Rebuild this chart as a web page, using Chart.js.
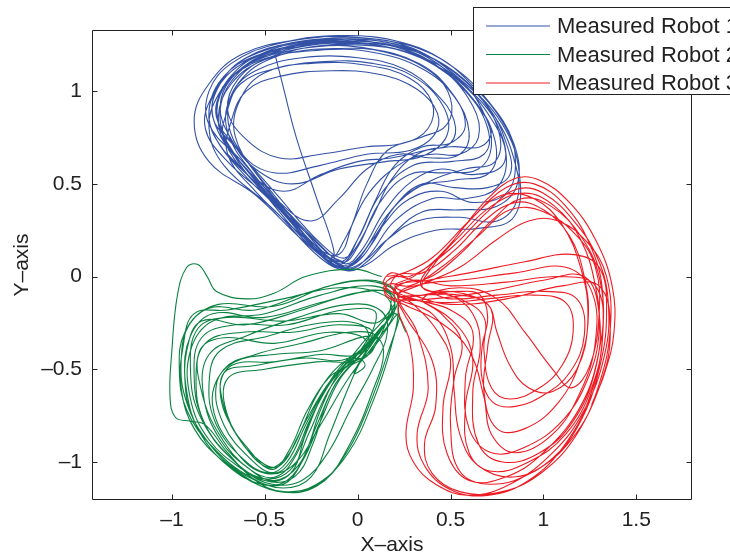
<!DOCTYPE html>
<html>
<head>
<meta charset="utf-8">
<script src="https://cdn.jsdelivr.net/npm/chart.js@4/dist/chart.umd.min.js"></script>
<style>
  html, body { margin: 0; padding: 0; background: #fff; }
  canvas { display: block; }
</style>
</head>
<body>
<canvas id="trackChart" width="730" height="558"></canvas>
<script>
// In axis units
const robotLabels = ['Measured Robot 1', 'Measured Robot 2', 'Measured Robot 3'];
const robotColors = ['#3352a6', '#0b8241', '#ed1c24'];
const xTicks = [-1, -0.5, 0, 0.5, 1, 1.5];
const yTicks = [-1, -0.5, 0, 0.5, 1];

const robot1Path = [
    [-0.45,1.22],[-0.40,1.02],[-0.33,0.75],[-0.22,0.42],[-0.13,0.15],[-0.14,0.08],
    [-0.3,0.2],[-0.55,0.44],[-0.8,0.62],[-0.88,0.84],[-0.8,1.04],[-0.62,1.2],[-0.3,1.28],[0.0,1.29],[0.3,1.23],[0.58,1.04],[0.78,0.82],[0.87,0.56],[0.84,0.32],[0.65,0.26],[0.42,0.25],[0.2,0.17],[0.04,0.06],[-0.08,0.04],
    [-0.25,0.16],[-0.48,0.42],[-0.68,0.68],[-0.74,0.9],[-0.64,1.1],[-0.45,1.21],[-0.2,1.26],[0.1,1.25],[0.4,1.15],[0.62,0.96],[0.74,0.73],[0.71,0.56],[0.52,0.52],[0.32,0.48],[0.15,0.32],[0.02,0.12],[-0.08,0.06],
    [-0.24,0.18],[-0.5,0.46],[-0.7,0.72],[-0.76,0.9],[-0.7,1.06],[-0.52,1.2],[-0.25,1.27],[0.05,1.27],[0.35,1.18],[0.58,1.0],[0.7,0.8],[0.68,0.66],[0.5,0.62],[0.3,0.6],[0.12,0.44],[0.0,0.2],[-0.1,0.08],
    [-0.3,0.26],[-0.52,0.52],[-0.66,0.76],[-0.63,0.96],[-0.5,1.1],[-0.25,1.15],[0.05,1.14],[0.28,1.07],[0.4,0.94],[0.38,0.8],[0.25,0.72],[0.05,0.7],[-0.2,0.66],[-0.42,0.64],[-0.6,0.74],
    [-0.7,0.9],[-0.64,1.07],[-0.48,1.18],[-0.22,1.24],[0.06,1.23],[0.33,1.15],[0.5,1.0],[0.58,0.82],[0.5,0.72],[0.35,0.7],[0.2,0.6],[0.1,0.42],[0.0,0.2],[-0.07,0.1],[-0.2,0.18],[-0.45,0.46],[-0.66,0.7],
    [-0.78,0.86],[-0.74,1.04],[-0.6,1.18],[-0.35,1.26],[0.0,1.28],[0.3,1.22],[0.55,1.05],[0.72,0.85],[0.8,0.65],[0.75,0.48],[0.58,0.42],[0.4,0.42],[0.2,0.3],[0.05,0.1],[-0.05,0.04],[-0.2,0.12],[-0.45,0.4],[-0.7,0.62],
    [-0.82,0.8],[-0.78,0.98],[-0.65,1.13],[-0.45,1.22],[-0.15,1.27],[0.2,1.24],[0.45,1.12],[0.62,0.92],[0.65,0.75],[0.55,0.66],[0.4,0.66],[0.25,0.62],[0.06,0.45],[-0.07,0.2],[-0.15,0.1],[-0.3,0.22],[-0.55,0.46],[-0.7,0.66],
    [-0.68,0.84],[-0.6,1.0],[-0.42,1.08],[-0.14,1.11],[0.12,1.09],[0.32,1.01],[0.43,0.88],[0.41,0.76],[0.28,0.68],[0.05,0.66],[-0.2,0.6],[-0.45,0.56],[-0.62,0.66],
    [-0.7,0.88],[-0.62,1.07],[-0.43,1.19],[-0.15,1.25],[0.15,1.24],[0.42,1.14],[0.66,0.95],[0.78,0.75],[0.78,0.6],[0.62,0.55],[0.45,0.58],[0.3,0.52],[0.15,0.36],[0.02,0.14],[-0.07,0.07],[-0.25,0.22],[-0.5,0.48],[-0.7,0.7],
    [-0.75,0.86],[-0.68,1.04],[-0.5,1.17],[-0.22,1.22],[0.08,1.21],[0.35,1.12],[0.52,0.97],[0.6,0.78],[0.55,0.66],[0.4,0.64],[0.22,0.66],[0.05,0.58],[-0.1,0.42],[-0.25,0.3],[-0.42,0.4],[-0.62,0.62],
    [-0.8,0.82],[-0.8,1.0],[-0.68,1.15],[-0.45,1.25],[-0.1,1.3],[0.25,1.26],[0.5,1.14],[0.7,0.95],[0.84,0.72],[0.86,0.5],[0.75,0.38],[0.55,0.36],[0.35,0.35],[0.18,0.22],[0.05,0.08],[-0.05,0.03],[-0.2,0.1],[-0.45,0.36],[-0.72,0.6],
    [-0.8,0.8],[-0.75,0.98],[-0.62,1.12],[-0.4,1.2],[-0.12,1.23],[0.15,1.21],[0.4,1.1],[0.5,0.96],[0.48,0.82],[0.34,0.75],[0.16,0.68],[0.05,0.5],[-0.03,0.28],[-0.1,0.12],[-0.22,0.16],[-0.45,0.44],[-0.64,0.68],
    [-0.76,0.86],[-0.72,1.02],[-0.58,1.15],[-0.3,1.23],[0.0,1.25],[0.3,1.2],[0.55,1.06],[0.68,0.88],[0.72,0.7],[0.65,0.58],[0.48,0.56],[0.28,0.55],[0.12,0.4],[0.0,0.16],[-0.08,0.08],[-0.28,0.24],[-0.55,0.5],[-0.72,0.74],
    [-0.7,0.9],[-0.63,1.04],[-0.45,1.12],[-0.18,1.16],[0.08,1.15],[0.3,1.08],[0.46,0.92],[0.48,0.76],[0.35,0.65],[0.15,0.62],[-0.1,0.58],[-0.35,0.5],[-0.55,0.58],[-0.68,0.74],
    [-0.74,0.92],[-0.66,1.09],[-0.47,1.21],[-0.2,1.27],[0.12,1.27],[0.42,1.17],[0.64,0.99],[0.76,0.78],[0.74,0.62],[0.58,0.58],[0.4,0.52],[0.22,0.4],[0.08,0.2],[-0.04,0.06],[-0.15,0.07],[-0.35,0.3],
    [-0.58,0.56],[-0.74,0.76],[-0.78,0.95],[-0.68,1.12],[-0.5,1.22],[-0.22,1.28],[0.1,1.28],[0.4,1.2],[0.62,1.03],[0.8,0.8],[0.85,0.62],[0.8,0.45],[0.62,0.4],[0.45,0.46],[0.28,0.42],[0.14,0.28],[0.02,0.1],[-0.08,0.05],
    [-0.22,0.14],[-0.42,0.36],[-0.62,0.56],[-0.76,0.74],[-0.8,0.9],[-0.72,1.08],[-0.55,1.19],[-0.3,1.25],[-0.02,1.26],[0.26,1.21],[0.5,1.08],[0.66,0.9],[0.72,0.78],[0.66,0.7],[0.5,0.7],[0.32,0.66],[0.18,0.52],[0.08,0.32],[-0.02,0.14],[-0.1,0.07],
    [-0.3,0.26],[-0.55,0.54],[-0.7,0.78],[-0.68,0.98],[-0.55,1.11],[-0.3,1.18],[0.0,1.18],[0.25,1.12],[0.42,0.99],[0.52,0.84],[0.5,0.72],[0.36,0.68],[0.18,0.64],[0.0,0.62],[-0.2,0.55],[-0.4,0.46],[-0.58,0.56],
    [-0.74,0.8],[-0.74,0.98],[-0.6,1.14],[-0.35,1.23],[-0.05,1.26],[0.25,1.23],[0.5,1.12],[0.7,0.92],[0.8,0.72],[0.82,0.55],[0.7,0.48],[0.52,0.48],[0.35,0.5],[0.2,0.38],[0.08,0.18],[-0.02,0.07],[-0.12,0.06],[-0.3,0.24],[-0.52,0.48],
    [-0.72,0.68],[-0.8,0.86],[-0.74,1.04],[-0.58,1.17],[-0.32,1.24],[0.0,1.27],[0.32,1.21],[0.56,1.07],[0.74,0.86],[0.84,0.64],[0.86,0.42],[0.75,0.3],[0.55,0.32],[0.32,0.3],[0.16,0.2],[0.03,0.08],[-0.07,0.05],[-0.24,0.17],[-0.5,0.45],[-0.7,0.66]
];

const robot2Path = [
    [0.13,0.0],[-0.02,0.04],[-0.28,0.0],[-0.45,-0.09],[-0.6,-0.12],[-0.76,-0.08],[-0.81,0.0],[-0.86,0.065],[-0.92,0.05],[-0.97,-0.1],[-1.0,-0.4],[-1.01,-0.65],[-0.98,-0.76],[-0.9,-0.78],[-0.82,-0.8],[-0.7,-0.95],[-0.55,-1.1],[-0.4,-1.16],[-0.22,-1.12],[-0.05,-0.95],[0.08,-0.68],[0.18,-0.38],[0.22,-0.15],
    [0.18,-0.05],[0.0,-0.02],[-0.25,-0.08],[-0.55,-0.18],[-0.8,-0.17],[-0.93,-0.3],[-0.96,-0.5],[-0.92,-0.72],[-0.78,-0.92],[-0.58,-1.08],[-0.4,-1.14],[-0.25,-1.08],[-0.15,-0.85],[-0.05,-0.6],[0.02,-0.45],[0.12,-0.3],[0.2,-0.15],
    [0.1,-0.25],[-0.1,-0.2],[-0.4,-0.24],[-0.7,-0.22],[-0.86,-0.28],[-0.9,-0.5],[-0.85,-0.75],[-0.68,-0.98],[-0.5,-1.1],[-0.36,-1.06],[-0.28,-0.85],[-0.18,-0.62],[-0.06,-0.45],[0.05,-0.38],[0.12,-0.3],
    [0.0,-0.42],[-0.2,-0.42],[-0.45,-0.46],[-0.68,-0.48],[-0.74,-0.62],[-0.66,-0.84],[-0.52,-1.0],[-0.42,-1.02],[-0.32,-0.86],[-0.22,-0.64],[-0.1,-0.48],[0.0,-0.44],[0.04,-0.48],[-0.02,-0.52],
    [0.05,-0.35],[-0.15,-0.3],[-0.45,-0.36],[-0.72,-0.33],[-0.85,-0.4],[-0.84,-0.62],[-0.74,-0.86],[-0.58,-1.04],[-0.44,-1.08],[-0.33,-0.96],[-0.24,-0.74],[-0.13,-0.55],[-0.02,-0.46],[0.08,-0.4],
    [0.18,-0.1],[0.05,-0.08],[-0.2,-0.14],[-0.5,-0.22],[-0.78,-0.2],[-0.9,-0.32],[-0.93,-0.55],[-0.88,-0.78],[-0.72,-0.98],[-0.55,-1.1],[-0.4,-1.12],[-0.3,-1.0],[-0.2,-0.78],[-0.1,-0.56],[0.02,-0.42],[0.14,-0.26],
    [-0.05,-0.44],[-0.3,-0.44],[-0.55,-0.48],[-0.72,-0.52],[-0.72,-0.7],[-0.62,-0.9],[-0.48,-1.03],[-0.38,-0.97],[-0.28,-0.78],[-0.16,-0.58],[-0.06,-0.47],
    [0.08,-0.3],[-0.1,-0.26],[-0.35,-0.3],[-0.62,-0.3],[-0.82,-0.36],[-0.87,-0.56],[-0.82,-0.8],[-0.66,-1.0],[-0.5,-1.09],[-0.36,-1.04],[-0.26,-0.84],[-0.16,-0.62],[-0.04,-0.46],[0.06,-0.36],
    [0.22,-0.12],[0.1,-0.03],[-0.15,-0.05],[-0.45,-0.16],[-0.75,-0.15],[-0.9,-0.25],[-0.95,-0.45],[-0.92,-0.68],[-0.8,-0.9],[-0.62,-1.07],[-0.42,-1.16],[-0.22,-1.13],[-0.06,-0.95],[0.06,-0.7],[0.16,-0.42],[0.22,-0.2],
    [0.02,-0.44],[-0.22,-0.46],[-0.5,-0.5],[-0.7,-0.55],[-0.7,-0.75],[-0.58,-0.94],[-0.46,-1.04],[-0.37,-0.94],[-0.27,-0.72],[-0.15,-0.54],[-0.03,-0.46],
    [0.1,-0.2],[-0.08,-0.18],[-0.38,-0.26],[-0.66,-0.26],[-0.84,-0.33],[-0.88,-0.54],[-0.83,-0.78],[-0.67,-0.99],[-0.5,-1.1],[-0.34,-1.08],[-0.24,-0.9],[-0.16,-0.66],[-0.06,-0.5],[0.06,-0.42],[0.1,-0.32],
    [-0.05,-0.3],[-0.3,-0.36],[-0.55,-0.42],[-0.72,-0.5],[-0.78,-0.7],[-0.65,-0.95],[-0.5,-1.06],[-0.35,-1.02],[-0.2,-0.8],[-0.05,-0.55],[0.1,-0.35],[0.2,-0.18],
    [0.15,-0.08],[-0.05,-0.1],[-0.3,-0.18],[-0.6,-0.26],[-0.84,-0.24],[-0.92,-0.4],[-0.92,-0.62],[-0.85,-0.84],[-0.7,-1.02],[-0.52,-1.12],[-0.38,-1.1],[-0.28,-0.95],[-0.2,-0.72],[-0.1,-0.52],[0.0,-0.44],
    [0.12,-0.3],[0.2,-0.12],[0.08,-0.05],[-0.2,-0.1],[-0.5,-0.2],[-0.78,-0.24],[-0.9,-0.4],[-0.9,-0.66],[-0.8,-0.88],[-0.62,-1.04],[-0.46,-1.12],[-0.3,-1.1],[-0.16,-0.95],[-0.04,-0.72],[0.08,-0.5],[0.16,-0.3],
    [0.12,-0.18],[-0.05,-0.15],[-0.32,-0.22],[-0.6,-0.32],[-0.8,-0.42],[-0.83,-0.64],[-0.74,-0.88],[-0.58,-1.04],[-0.45,-1.1],[-0.32,-1.02],[-0.22,-0.8],[-0.12,-0.58],[-0.02,-0.46],[0.06,-0.35],
    [0.02,-0.26],[-0.2,-0.25],[-0.48,-0.32],[-0.74,-0.4],[-0.8,-0.58],[-0.76,-0.8],[-0.62,-0.98],[-0.48,-1.06],[-0.38,-1.0],[-0.28,-0.8],[-0.17,-0.6],[-0.07,-0.48],[0.02,-0.4],
    [0.18,-0.2],[0.14,-0.1],[-0.1,-0.06],[-0.4,-0.12],[-0.7,-0.18],[-0.88,-0.2],[-0.94,-0.38],[-0.95,-0.6],[-0.88,-0.82],[-0.72,-1.0],[-0.52,-1.13],[-0.35,-1.16],[-0.18,-1.1],[-0.04,-0.9],[0.08,-0.62],[0.14,-0.4],[0.08,-0.32],
    [-0.2,-0.4],[-0.45,-0.42],[-0.66,-0.46],[-0.76,-0.58],[-0.72,-0.8],[-0.58,-0.98],[-0.45,-1.06],[-0.35,-0.98],[-0.26,-0.78],[-0.14,-0.56],[-0.04,-0.44],[0.08,-0.3],[0.2,-0.2],[0.26,-0.3]
];

const robot3Path = [
    [0.16,0.0],[0.25,0.02],[0.4,0.1],[0.6,0.3],[0.8,0.48],[0.95,0.5],[1.12,0.38],[1.26,0.15],[1.32,-0.1],[1.3,-0.4],[1.2,-0.7],[1.0,-0.95],[0.8,-1.08],[0.6,-1.1],[0.48,-0.95],[0.46,-0.7],[0.5,-0.45],[0.42,-0.28],[0.3,-0.15],[0.2,-0.08],
    [0.3,-0.02],[0.5,-0.05],[0.8,-0.03],[1.1,0.0],[1.28,-0.05],[1.32,-0.3],[1.26,-0.6],[1.12,-0.85],[0.92,-1.0],[0.72,-1.05],[0.6,-0.95],[0.58,-0.7],[0.62,-0.45],[0.55,-0.28],[0.38,-0.15],[0.22,-0.1],
    [0.14,-0.04],[0.18,0.02],[0.28,0.0],[0.45,0.12],[0.62,0.32],[0.78,0.44],[0.95,0.42],[1.1,0.28],[1.2,0.05],[1.24,-0.2],[1.2,-0.45],[1.08,-0.68],[0.9,-0.82],[0.75,-0.82],[0.68,-0.62],[0.7,-0.38],[0.72,-0.18],[0.6,-0.1],[0.4,-0.08],
    [0.5,-0.12],[0.75,-0.1],[1.0,-0.08],[1.18,-0.12],[1.22,-0.32],[1.14,-0.52],[1.0,-0.64],[0.85,-0.7],[0.73,-0.68],[0.67,-0.55],[0.67,-0.38],[0.7,-0.22],[0.66,-0.1],
    [0.55,-0.08],[0.35,-0.1],[0.22,-0.15],[0.28,-0.35],[0.3,-0.6],[0.26,-0.85],[0.3,-1.0],[0.42,-1.12],[0.6,-1.18],[0.82,-1.12],[1.05,-0.95],[1.22,-0.72],[1.33,-0.42],[1.35,-0.15],[1.3,0.08],[1.18,0.28],[1.0,0.45],[0.85,0.47],[0.7,0.35],[0.5,0.15],[0.3,0.0],
    [0.2,-0.05],[0.3,-0.1],[0.5,-0.15],[0.8,-0.12],[1.1,-0.05],[1.3,-0.05],[1.36,-0.3],[1.3,-0.6],[1.15,-0.88],[0.95,-1.05],[0.72,-1.12],[0.55,-1.05],[0.5,-0.8],[0.52,-0.55],[0.56,-0.35],[0.45,-0.2],
    [0.35,-0.12],[0.55,-0.06],[0.75,-0.12],[0.9,-0.3],[1.05,-0.5],[1.15,-0.6],[1.25,-0.48],[1.3,-0.2],[1.28,0.05],[1.18,0.22],[1.0,0.35],[0.82,0.36],[0.65,0.22],[0.45,0.05],[0.28,-0.05],[0.17,-0.04],[0.15,-0.1],[0.25,-0.15],[0.45,-0.25],
    [0.6,-0.4],[0.68,-0.65],[0.72,-0.85],[0.85,-0.95],[1.05,-0.85],[1.2,-0.62],[1.28,-0.35],[1.26,-0.08],[1.12,0.05],[0.85,0.02],[0.55,-0.02],[0.35,-0.04],
    [0.22,-0.1],[0.32,-0.3],[0.38,-0.6],[0.32,-0.85],[0.36,-1.02],[0.5,-1.15],[0.7,-1.18],[0.92,-1.1],[1.12,-0.9],[1.26,-0.62],[1.32,-0.3],[1.3,0.0],[1.2,0.22],[1.04,0.38],[0.88,0.42],[0.72,0.3],[0.55,0.12],[0.35,-0.02],
    [0.2,0.0],[0.14,-0.06],[0.2,-0.12],[0.4,-0.12],[0.7,-0.08],[1.0,-0.02],[1.22,0.0],[1.3,-0.2],[1.28,-0.5],[1.16,-0.78],[0.98,-0.95],[0.78,-1.0],[0.65,-0.9],[0.62,-0.62],[0.66,-0.38],[0.62,-0.2],[0.5,-0.1],
    [0.35,-0.06],[0.4,0.05],[0.55,0.22],[0.72,0.38],[0.9,0.45],[1.06,0.38],[1.2,0.2],[1.28,-0.05],[1.3,-0.3],[1.24,-0.55],[1.1,-0.78],[0.9,-0.92],[0.72,-0.95],[0.6,-0.82],[0.58,-0.55],[0.62,-0.3],[0.5,-0.18],[0.3,-0.12],
    [0.18,-0.06],[0.22,0.01],[0.35,0.02],[0.52,0.14],[0.68,0.3],[0.85,0.4],[1.0,0.36],[1.14,0.22],[1.22,0.0],[1.24,-0.25],[1.18,-0.5],[1.05,-0.62],[0.92,-0.6],[0.82,-0.48],[0.75,-0.3],[0.7,-0.15],[0.55,-0.1],[0.35,-0.1],
    [0.22,-0.12],[0.4,-0.2],[0.5,-0.38],[0.52,-0.62],[0.55,-0.85],[0.65,-1.02],[0.85,-1.08],[1.05,-0.98],[1.2,-0.78],[1.3,-0.5],[1.34,-0.2],[1.3,0.05],[1.15,0.12],[0.9,0.08],[0.6,0.02],[0.38,-0.02],
    [0.2,-0.06],[0.25,-0.2],[0.4,-0.45],[0.42,-0.7],[0.36,-0.9],[0.4,-1.06],[0.55,-1.16],[0.78,-1.16],[1.0,-1.05],[1.18,-0.85],[1.3,-0.58],[1.36,-0.28],[1.34,0.0],[1.24,0.18],[1.08,0.3],[0.92,0.3],[0.75,0.2],[0.55,0.05],[0.35,-0.04],
    [0.22,-0.1],[0.45,-0.14],[0.7,-0.12],[0.95,-0.1],[1.12,-0.14],[1.16,-0.3],[1.1,-0.48],[0.98,-0.6],[0.82,-0.66],[0.72,-0.6],[0.68,-0.4],[0.68,-0.22],[0.55,-0.12],[0.35,-0.06],
    [0.35,0.0],[0.52,0.2],[0.7,0.42],[0.85,0.53],[0.98,0.52],[1.14,0.4],[1.28,0.2],[1.37,-0.05],[1.38,-0.3],[1.33,-0.52],[1.26,-0.69]
];

const FONT = '"Liberation Sans", Arial, Helvetica, sans-serif';
const AXIS_COLOR = '#222';

function toPoints(path) {
    return path.map(p => ({ x: p[0], y: p[1] }));
}

function minusLabel(v) {
    return v < 0 ? '\u2013' + Math.abs(v) : String(v);
}

// inward ticks on all four sides, the box, the axis titles and the legend
const framePlugin = {
    id: 'frame',
    afterDraw(chart) {
        const ctx = chart.ctx;
        const a = chart.chartArea;
        const xs = chart.scales.x;
        const ys = chart.scales.y;
        const L = Math.round(a.left) + 0.5, R = Math.round(a.right) - 0.5;
        const T = Math.round(a.top) + 0.5, B = Math.round(a.bottom) - 0.5;
        const tick = 5;

        ctx.save();
        ctx.strokeStyle = AXIS_COLOR;
        ctx.lineWidth = 1;
        ctx.beginPath();
        ctx.rect(L, T, R - L, B - T);
        xTicks.forEach(v => {
            const px = Math.round(xs.getPixelForValue(v)) + 0.5;
            ctx.moveTo(px, B); ctx.lineTo(px, B - tick);
            ctx.moveTo(px, T); ctx.lineTo(px, T + tick);
        });
        yTicks.forEach(v => {
            const py = Math.round(ys.getPixelForValue(v)) + 0.5;
            ctx.moveTo(L, py); ctx.lineTo(L + tick, py);
            ctx.moveTo(R, py); ctx.lineTo(R - tick, py);
        });
        ctx.stroke();

        // axis titles
        ctx.fillStyle = AXIS_COLOR;
        ctx.font = '21px ' + FONT;
        ctx.textAlign = 'center';
        ctx.textBaseline = 'middle';
        ctx.fillText('X\u2013axis', (a.left + a.right) / 2, 545);
        ctx.save();
        ctx.translate(22, (a.top + a.bottom) / 2);
        ctx.rotate(-Math.PI / 2);
        ctx.fillText('Y\u2013axis', 0, 0);
        ctx.restore();

        // legend box, clipped by the canvas edge like the original
        const bx = 473.5, by = 7.5, bw = 300, bh = 87;
        ctx.fillStyle = '#fff';
        ctx.fillRect(bx, by, bw, bh);
        ctx.strokeRect(bx, by, bw, bh);
        ctx.textAlign = 'left';
        ctx.font = '22px ' + FONT;
        robotLabels.forEach((label, i) => {
            const ry = 26 + i * 28.5;
            ctx.strokeStyle = robotColors[i];
            ctx.lineWidth = 1.2;
            ctx.beginPath();
            ctx.moveTo(486, ry);
            ctx.lineTo(550, ry);
            ctx.stroke();
            ctx.fillStyle = AXIS_COLOR;
            ctx.fillText(label, 557, ry + 1);
        });
        ctx.restore();
    }
};

const paths = [robot1Path, robot2Path, robot3Path];

new Chart(document.getElementById('trackChart'), {
    type: 'scatter',
    data: {
        datasets: paths.map((path, i) => ({
            label: robotLabels[i],
            data: toPoints(path),
            showLine: true,
            borderColor: robotColors[i],
            backgroundColor: robotColors[i],
            borderWidth: 1.1,
            pointRadius: 0,
            tension: 0.4,
            order: 3 - i
        }))
    },
    options: {
        responsive: false,
        animation: false,
        events: [],
        layout: { padding: { left: 0, right: 38, top: 30, bottom: 0 } },
        plugins: {
            legend: { display: false },
            tooltip: { enabled: false }
        },
        scales: {
            x: {
                type: 'linear',
                min: -1.43,
                max: 1.8,
                grid: { display: false, drawTicks: false },
                border: { display: false },
                afterFit: s => { s.height = 58; },
                ticks: {
                    includeBounds: false,
                    stepSize: 0.5,
                    padding: 8,
                    color: AXIS_COLOR,
                    font: { family: FONT, size: 21 },
                    callback: v => minusLabel(v)
                }
            },
            y: {
                type: 'linear',
                min: -1.205,
                max: 1.33,
                grid: { display: false, drawTicks: false },
                border: { display: false },
                afterFit: s => { s.width = 92; },
                ticks: {
                    includeBounds: false,
                    stepSize: 0.5,
                    padding: 10,
                    color: AXIS_COLOR,
                    font: { family: FONT, size: 21 },
                    callback: v => minusLabel(v)
                }
            }
        }
    },
    plugins: [framePlugin]
});
</script>
</body>
</html>
